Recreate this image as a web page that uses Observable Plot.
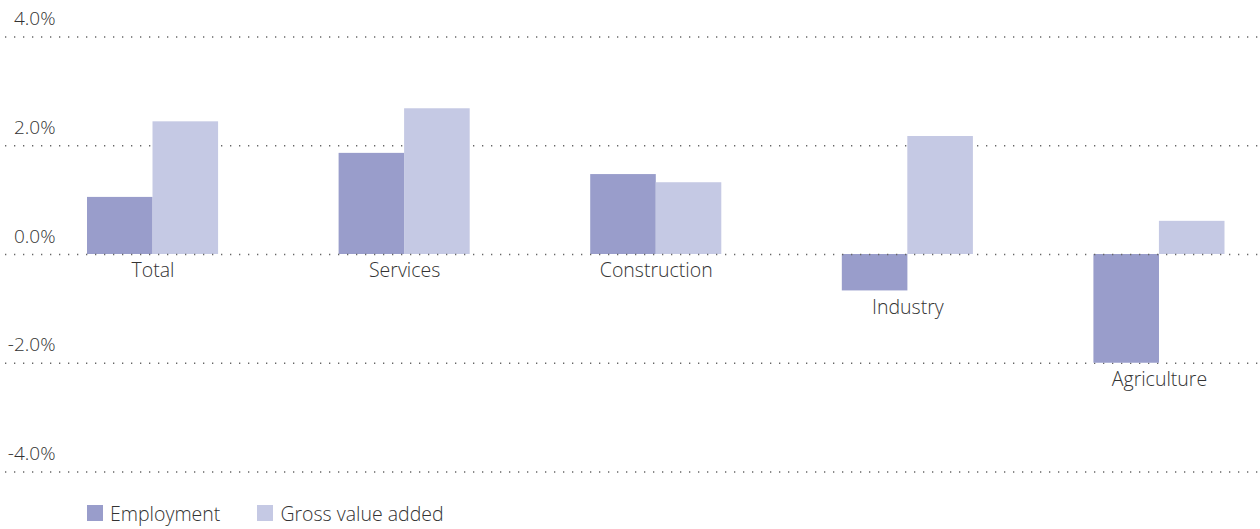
<!DOCTYPE html>
<html>
<head>
<meta charset="utf-8">
<script src="https://cdn.jsdelivr.net/npm/d3@7"></script>
<script src="https://cdn.jsdelivr.net/npm/@observablehq/plot@0.6"></script>
<style>
  html, body { margin: 0; padding: 0; background: #fff; }
  body { width: 1260px; height: 529px; overflow: hidden; font-family: "Open Sans", sans-serif; }
  #chart svg { display: block; }
  .legend { display: flex; align-items: center; height: 36px; padding-top: 4px; box-sizing: border-box; padding-left: 87px; font-size: 19.5px; font-weight: 300; color: #333; }
  .legend .item { display: flex; align-items: center; margin-right: 37px; }
  .legend .sw { width: 16px; height: 16px; margin-right: 7px; }
</style>
</head>
<body>
<div id="chart"></div>
<script>
const categories = ["Total", "Services", "Construction", "Industry", "Agriculture"];
const employment = [1.05, 1.86, 1.47, -0.67, -2.0];
const grossValueAdded = [2.44, 2.68, 1.32, 2.17, 0.61];
const seriesNames = ["Employment", "Gross value added"];
const seriesColors = ["#999dcb", "#c5c9e4"];
const yTicks = [-4, -2, 0, 2, 4];

const empData = categories.map((c, i) => ({category: c, value: employment[i]}));
const gvaData = categories.map((c, i) => ({category: c, value: grossValueAdded[i]}));
const labelData = categories.map((c, i) => ({category: c, low: Math.min(0, employment[i], grossValueAdded[i])}));

const width = 1260, height = 493;
const fontFamily = '"Open Sans", sans-serif';
const gridStyle = {stroke: "#666", strokeWidth: 1.4, strokeDasharray: "1.3 7.7"};

const chart = Plot.plot({
  width, height,
  marginLeft: 5, marginRight: 0, marginTop: 36.5, marginBottom: 21.5,
  style: {fontFamily, fontSize: "20px", color: "#333", background: "#fff"},
  x: {domain: categories, range: [87, 1224.5], paddingInner: 0.479, paddingOuter: 0, round: false, axis: null},
  y: {domain: [-4, 4], range: [471.5, 36.5], ticks: yTicks},
  marks: [
    Plot.ruleY(yTicks.filter(d => d !== 0), gridStyle),
    Plot.barY(empData, {x: "category", y: "value", fill: seriesColors[0], insetRight: 65.5}),
    Plot.barY(gvaData, {x: "category", y: "value", fill: seriesColors[1], insetLeft: 65.5}),
    Plot.ruleY([0], gridStyle),
    Plot.axisY({ticks: yTicks, tickSize: 0, tickPadding: 0, dx: 50, dy: -18, textAnchor: "end",
      tickFormat: d => d.toFixed(1) + "%", label: null, fill: "#333", fontSize: 19, fontWeight: 300}),
    Plot.text(labelData, {x: "category", y: "low", text: "category", dy: 16.5, lineAnchor: "middle",
      textAnchor: "middle", fill: "#333", fontSize: 19.5, fontWeight: 300})
  ]
});
document.getElementById("chart").appendChild(chart);

const legend = document.createElement("div");
legend.className = "legend";
seriesNames.forEach((name, i) => {
  const item = document.createElement("div");
  item.className = "item";
  const sw = document.createElement("span");
  sw.className = "sw";
  sw.style.background = seriesColors[i];
  const label = document.createElement("span");
  label.textContent = name;
  item.appendChild(sw);
  item.appendChild(label);
  legend.appendChild(item);
});
document.getElementById("chart").appendChild(legend);
</script>
</body>
</html>
